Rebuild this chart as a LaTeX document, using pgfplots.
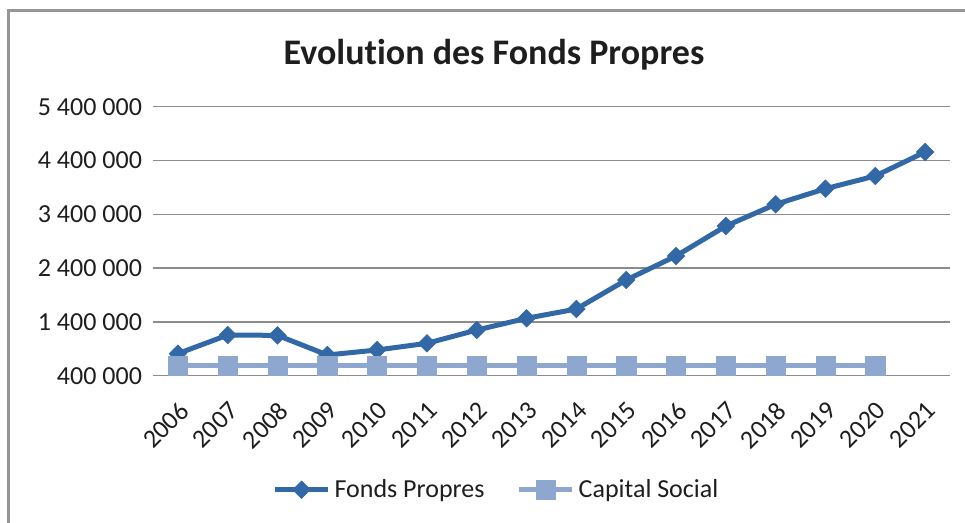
\documentclass[border=0pt]{standalone}
\usepackage{fontspec}
\setmainfont{Carlito}[Ligatures={NoCommon}]
\usepackage{pgfplots}
\pgfplotsset{compat=1.18}
\definecolor{fpblue}{RGB}{50,104,166}
\definecolor{csblue}{RGB}{142,167,206}
\definecolor{gridgray}{RGB}{140,140,140}
\definecolor{framegray}{RGB}{150,150,150}
\definecolor{txt}{RGB}{30,30,30}
\begin{document}
\begin{tikzpicture}
\useasboundingbox (0pt,0pt) rectangle (482.5pt,-261.5pt);
\draw[framegray, line width=1.2pt] (4.25pt,-261.5pt) -- (4.25pt,-5.25pt) -- (482.5pt,-5.25pt);
\node[anchor=base, font=\fontsize{18pt}{21pt}\selectfont\bfseries, text=txt, inner sep=0pt] at (247pt,-32.15pt) {Evolution des Fonds Propres};
\begin{axis}[
  at={(76.5pt,-187.85pt)}, anchor=south west,
  scale only axis, width=398.5pt, height=134.5pt,
  xmin=-0.5, xmax=15.5, ymin=400000, ymax=5400000,
  clip=false,
  scaled y ticks=false,
  xtick={0,...,15},
  xticklabels={2006,2007,2008,2009,2010,2011,2012,2013,2014,2015,2016,2017,2018,2019,2020,2021},
  ytick={400000,1400000,2400000,3400000,4400000,5400000},
  yticklabels={400 000,1 400 000,2 400 000,3 400 000,4 400 000,5 400 000},
  axis line style={draw=none},
  major tick length=0pt,
  ymajorgrids,
  grid style={line width=0.7pt, gridgray},
  tick label style={font=\fontsize{13pt}{15pt}\selectfont, text=txt},
  yticklabel style={anchor=east, xshift=-2pt},
  xticklabel style={xshift=0pt, yshift=-7.3pt, rotate=45, anchor=north east},
  legend style={at={(0.5,-0.4238)}, anchor=center, xshift=-27pt, draw=none, fill=none,
    font=\fontsize{13pt}{15pt}\selectfont, text=txt, legend columns=2,
    /tikz/every even column/.append style={column sep=14pt}},
  legend cell align=left,
  legend image code/.code={\draw[mark repeat=2,mark phase=2,#1] plot coordinates {(0pt,0pt) (13.25pt,0pt) (26.5pt,0pt)};},
]
\addplot[fpblue, line width=2.5pt, mark=square*, mark size=3.1pt,
  mark options={solid, rotate=45, line width=0.3pt, fill=fpblue}]
  coordinates {
  (0,810000) (1,1156000) (2,1150000) (3,785000) (4,878000) (5,1002000)
  (6,1249000) (7,1467000) (8,1640000) (9,2179000) (10,2625000) (11,3182000)
  (12,3586000) (13,3876000) (14,4112000) (15,4558000)};
\addlegendentry{Fonds Propres}
\addplot[csblue, line width=2.6pt, mark=square*, mark size=4.8pt,
  mark options={solid, line width=0.3pt, fill=csblue}]
  coordinates {
  (0,588000) (1,588000) (2,588000) (3,588000) (4,588000) (5,588000)
  (6,588000) (7,588000) (8,588000) (9,588000) (10,588000) (11,588000)
  (12,588000) (13,588000) (14,588000)};
\addlegendentry{Capital Social}
\end{axis}
\end{tikzpicture}
\end{document}
